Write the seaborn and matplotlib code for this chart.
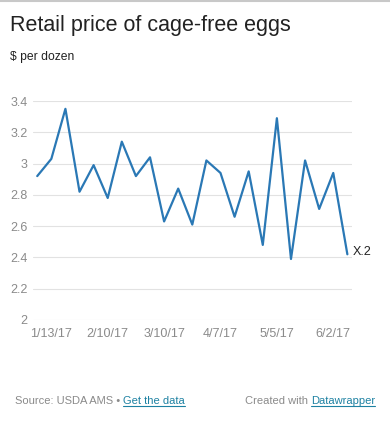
import pandas as pd
import matplotlib.pyplot as plt
from matplotlib.lines import Line2D
import seaborn as sns

sns.set_style('white')
plt.rcParams['font.family'] = ['Liberation Sans', 'DejaVu Sans']

# weekly retail price, $ per dozen
week_start = '2017-01-06'
prices = [2.92, 3.03, 3.35, 2.82, 2.99, 2.78, 3.14, 2.92, 3.04, 2.63, 2.84, 2.61,
          3.02, 2.94, 2.66, 2.95, 2.48, 3.29, 2.39, 3.02, 2.71, 2.94, 2.42]
y_ticks = [2, 2.2, 2.4, 2.6, 2.8, 3, 3.2, 3.4]
y_labels = ['2', '2.2', '2.4', '2.6', '2.8', '3', '3.2', '3.4']
end_label = 'X.2'

df = pd.DataFrame({'date': pd.date_range(week_start, periods=len(prices), freq='7D'),
                   'price': prices})

W, H = 390, 422
fig = plt.figure(figsize=(W / 100, H / 100), dpi=100)
ax = fig.add_axes([33 / W, 1 - 320 / H, (352 - 33) / W, (320 - 101) / H])

sns.lineplot(data=df, x='date', y='price', ax=ax, color='#2a78b5', linewidth=1.6)

ax.set_ylim(2, 3.4)
d0, d1 = df['date'].iloc[0], df['date'].iloc[-1]
ax.set_xlim(d0 - pd.Timedelta(days=2.1), d1 + pd.Timedelta(days=2.3))
ax.set_yticks(y_ticks)
ax.set_yticklabels(y_labels)
xt = df['date'].iloc[1::4]
ax.set_xticks(xt)
ax.set_xticklabels([f'{d.month}/{d.day}/{d.strftime("%y")}' for d in xt])
ax.tick_params(axis='both', length=0, labelsize=9, colors='#8a8a8a')
ax.tick_params(axis='y', pad=4)
ax.tick_params(axis='x', pad=6)
ax.grid(axis='y', color='#e2e2e2', linewidth=0.8)
ax.grid(axis='x', visible=False)
for s in ax.spines.values():
    s.set_visible(False)
ax.set_xlabel('')
ax.set_ylabel('')

ax.annotate(end_label, (d1, prices[-1]), xytext=(4, 2), textcoords='offset points',
            fontsize=9, color='#222222', va='center', ha='left', annotation_clip=False)

# header
fig.text(10 / W, 1 - 26 / H, 'Retail price of cage-free eggs', fontsize=15.5,
         color='#222222', va='center', ha='left')
fig.text(10 / W, 1 - 57 / H, '$ per dozen', fontsize=8.7, color='#222222',
         va='center', ha='left')
fig.add_artist(Line2D([0, 1], [1 - 1 / H, 1 - 1 / H], transform=fig.transFigure,
                      color='#c8c8c8', linewidth=1.5))

# footer with underlined links
fig.canvas.draw()
renderer = fig.canvas.get_renderer()
link = '#1d81a2'
grey = '#8a8a8a'


def chain(parts, x0, y):
    x = x0
    for txt, col, underline in parts:
        t = fig.text(x / W, 1 - y / H, txt, fontsize=8.0, color=col, va='center', ha='left')
        bb = t.get_window_extent(renderer)
        if underline:
            fig.add_artist(Line2D([bb.x0 / W, bb.x1 / W], [(bb.y0 + 0.5) / H] * 2,
                                  transform=fig.transFigure, color=col, linewidth=0.8))
        x = bb.x1


chain([('Source: USDA AMS • ', grey, False), ('Get the data', link, True)], 15, 401)
chain([('Created with ', grey, False), ('Datawrapper', link, True)], 245, 401)

fig.savefig('out.png', dpi=100)
